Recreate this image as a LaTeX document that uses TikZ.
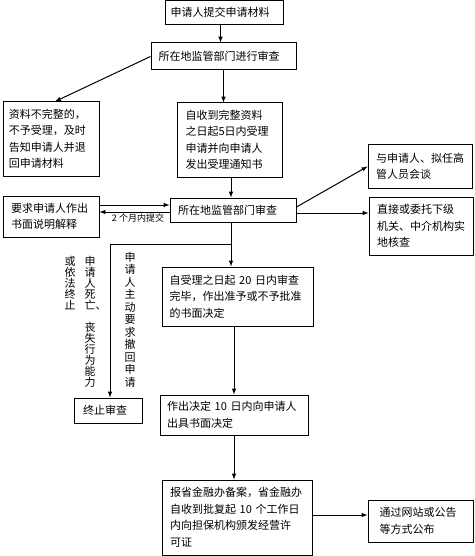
\documentclass[tikz,border=0pt]{standalone}
\usepackage{fontspec}
\newfontfamily\cjk{Noto Sans CJK SC}
\usetikzlibrary{arrows,calc}
\tikzset{
  box/.style={draw, line width=1pt, inner sep=0pt, align=left,
    font=\cjk\fontsize{11}{16.5}\selectfont},
  vtext/.style={inner sep=0pt, align=left, text width=11pt, anchor=north,
    font=\cjk\fontsize{11}{11}\selectfont},
  lbl/.style={inner sep=1pt, font=\cjk\fontsize{9}{10}\selectfont},
  arr/.style={-latex, line width=1pt}
}

\begin{document}
\begin{tikzpicture}[x=1pt, y=-1pt]
\useasboundingbox (0,0) rectangle (474,556);

% main column
\node[box, minimum width=118, minimum height=24.5, text width=108] (apply) at (224.5,12.75) {申请人提交申请材料};
\node[box, minimum width=145, minimum height=27, text width=130] (check1) at (223.5,56.5) {所在地监管部门进行审查};
\node[box, minimum width=96, minimum height=74, text width=84] (reject) at (51,139) {资料不完整的，\\不予受理，及时\\告知申请人并退\\回申请材料};
\node[box, minimum width=105, minimum height=74, text width=88] (accept) at (229.5,140) {自收到完整资料\\之日起5日内受理\\申请并向申请人\\发出受理通知书};
\node[box, minimum width=104, minimum height=43, text width=88] (talk) at (420,166.5) {与申请人、拟任高\\管人员会谈};
\node[box, minimum width=96, minimum height=41, text width=80] (explain) at (51,216.5) {要求申请人作出\\书面说明解释};
\node[box, minimum width=126, minimum height=24, text width=110] (check2) at (233,210) {所在地监管部门审查};
\node[box, minimum width=104, minimum height=58, text width=88] (site) at (421,226) {直接或委托下级\\机关、中介机构实\\地核查};
\node[box, minimum width=151, minimum height=59, text width=136] (decide) at (237.5,296.5) {自受理之日起~20~日内审查\\完毕，作出准予或不予批准\\的书面决定};
\node[box, minimum width=68, minimum height=25, text width=50] (stop) at (108,410.5) {终止审查};
\node[box, minimum width=148, minimum height=40, text width=134] (notify) at (234,415) {作出决定~10~日内向申请人\\出具书面决定};
\node[box, minimum width=150, minimum height=75, text width=134] (license) at (237,517.5) {报省金融办备案，省金融办\\自收到批复起~10~个工作日\\内向担保机构颁发经营许\\可证};
\node[box, minimum width=105, minimum height=42, text width=82] (publish) at (420.5,521) {通过网站或公告\\等方式公布};

% vertical notes
\node[vtext] (why1) at (70,256.5) {或\\依\\法\\终\\止};
\node[vtext] (why2) at (90,256.5) {申\\请\\人\\死\\亡\rlap{、}\\[11pt]丧\\失\\行\\为\\能\\力};
\node[vtext, font=\cjk\fontsize{11}{12.5}\selectfont] (why3) at (130,252) {申\\请\\人\\主\\动\\要\\求\\撤\\回\\申\\请};

% connectors
\draw[arr] ([xshift=-4]apply.south) -- ([xshift=-4]apply.south |- check1.north);
\draw[arr] (check1.west) -- ([xshift=4]reject.north);
\draw[arr] (check1.south) -- (check1.south |- accept.north);
\draw[arr] ([xshift=1.5]accept.south) -- ([xshift=1.5]accept.south |- check2.north);
\draw[arr] ([yshift=3]check2.east) -- (talk.west);
\draw[arr] ([yshift=-3]check2.east) -- ([yshift=-3]check2.east -| site.west);
\draw[arr] ([yshift=5]check2.west -| explain.east) -- ([yshift=5]check2.west);
\draw[arr] ([yshift=-2]check2.west) -- node[lbl, below, pos=0.45] (within) {2 个月内提交} ([yshift=-2]check2.west -| explain.east);
\draw[arr] ([xshift=-2]check2.south) -- ([xshift=-2]check2.south |- decide.north);
\coordinate (fork) at ($([xshift=-2]check2.south)!0.5!([xshift=-2]check2.south |- decide.north)$);
\draw[arr] (fork) -| ([xshift=2]stop.north);
\draw[arr] (notify.north |- decide.south) -- (notify.north);
\draw[arr] (notify.south) -- (notify.south |- license.north);
\draw[arr] ([yshift=2.5]license.east) -- ([yshift=2.5]license.east -| publish.west);

\end{tikzpicture}
\end{document}
